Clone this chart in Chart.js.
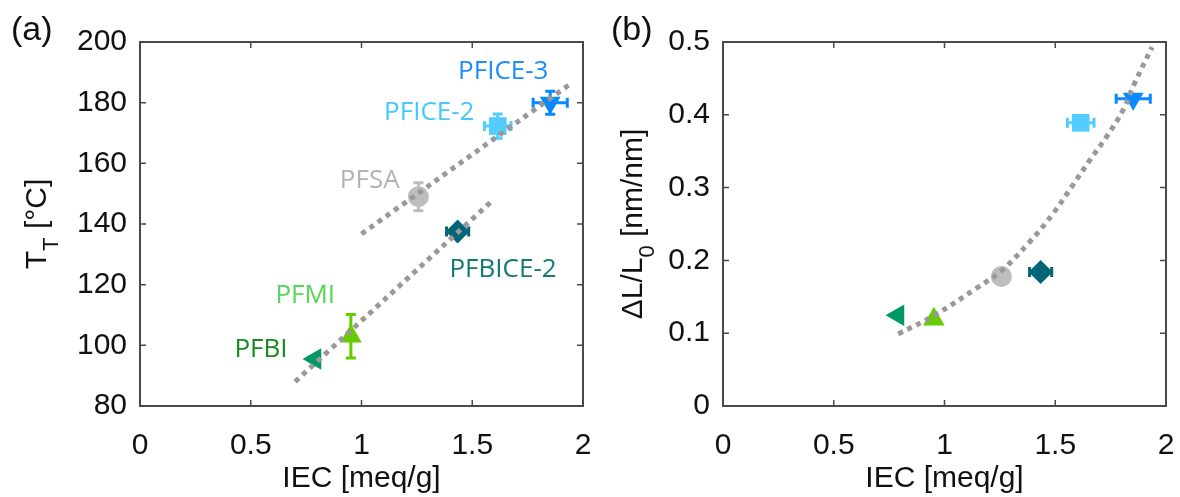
<!DOCTYPE html>
<html>
<head>
<meta charset="utf-8">
<script src="https://cdn.jsdelivr.net/npm/chart.js@4.4.1/dist/chart.umd.min.js"></script>
<style>
  body { margin: 0; background: #fff; }
  .panel { position: absolute; top: 0; }
</style>
</head>
<body>
<div class="panel" style="left:0px"><canvas id="chartA" width="600" height="497"></canvas></div>
<div class="panel" style="left:600px"><canvas id="chartB" width="580" height="497"></canvas></div>
<script>
// membranes, same order everywhere
const names = ['PFBI', 'PFMI', 'PFSA', 'PFBICE-2', 'PFICE-2', 'PFICE-3'];
const iec = [0.79, 0.952, 1.257, 1.434, 1.615, 1.852];
const iecErr = [0, 0, 0, 0.05, 0.06, 0.077];

// (a) transition temperature
const tT = [95.5, 103, 149, 137.5, 172.3, 180];
const tTErr = [0, 7.2, 4.6, 0, 4, 3.8];

// (b) swelling dL/L0
const swell = [0.1246, 0.119, 0.178, 0.184, 0.389, 0.422];

// dotted guide lines
const fitUpperX = [1.0, 1.953];
const fitUpperY = [136.7, 186.7];
const fitLowerX = [0.70, 1.598];
const fitLowerY = [88.0, 148.2];
const fitSwellX = [0.791, 0.957, 1.145, 1.258, 1.386, 1.491, 1.574, 1.657, 1.732, 1.807, 1.856, 1.937];
const fitSwellY = [0.099, 0.125, 0.162, 0.186, 0.226, 0.2647, 0.301, 0.338, 0.370, 0.407, 0.442, 0.493];

// tick labels
const iecTicks = [0, 0.5, 1, 1.5, 2];
const tTTicks = [80, 100, 120, 140, 160, 180, 200];
const swellTicks = [0, 0.1, 0.2, 0.3, 0.4, 0.5];

// marker look
const markerColors = ['#009966', '#66cc00', '#bdbdbd', '#006677', '#55ccff', '#0a88ff'];
const labelColors = ['#168a1e', '#55d655', '#b3b3b3', '#127878', '#44c8ff', '#1a8cff'];
const markerStyles = ['triangle', 'triangle', 'circle', 'rectRot', 'rect', 'triangle'];
const markerRot = [270, 0, 0, 0, 0, 180];
const markerRadius = [12.5, 12.5, 10.5, 12, 12.5, 12];

const tickFont = { family: 'Liberation Sans, Arial, sans-serif', size: 30 };
const titleFont = { family: 'Liberation Sans, Arial, sans-serif', size: 30 };

// frame, inner ticks, error bars, labels
const figPlugin = {
  id: 'figPlugin',
  beforeDatasetsDraw(chart) {
    const ctx = chart.ctx;
    const xs = chart.scales.x, ys = chart.scales.y;
    ctx.save();
    ctx.lineWidth = 3;
    chart.data.datasets.forEach(ds => {
      if (!ds.errX) return;
      const p = ds.data[0];
      const px = xs.getPixelForValue(p.x), py = ys.getPixelForValue(p.y);
      ctx.strokeStyle = ds.backgroundColor;
      ctx.beginPath();
      if (ds.errY) {
        const y1 = ys.getPixelForValue(p.y - ds.errY), y2 = ys.getPixelForValue(p.y + ds.errY);
        ctx.moveTo(px, y1); ctx.lineTo(px, y2);
        ctx.moveTo(px - 5, y1); ctx.lineTo(px + 5, y1);
        ctx.moveTo(px - 5, y2); ctx.lineTo(px + 5, y2);
      }
      if (ds.errX[0]) {
        const x1 = xs.getPixelForValue(p.x - ds.errX[0]), x2 = xs.getPixelForValue(p.x + ds.errX[0]);
        ctx.moveTo(x1, py); ctx.lineTo(x2, py);
        ctx.moveTo(x1, py - 5); ctx.lineTo(x1, py + 5);
        ctx.moveTo(x2, py - 5); ctx.lineTo(x2, py + 5);
      }
      ctx.stroke();
    });
    ctx.restore();
  },
  afterDraw(chart, args, opts) {
    const ctx = chart.ctx;
    const a = chart.chartArea;
    const xs = chart.scales.x, ys = chart.scales.y;
    ctx.save();
    // box
    ctx.strokeStyle = '#4a4a4a';
    ctx.lineWidth = 2;
    ctx.strokeRect(a.left, a.top, a.right - a.left, a.bottom - a.top);
    // inward ticks on all sides
    ctx.lineWidth = 1.5;
    ctx.beginPath();
    xs.ticks.forEach(t => {
      const x = xs.getPixelForValue(t.value);
      ctx.moveTo(x, a.bottom); ctx.lineTo(x, a.bottom - 6);
      ctx.moveTo(x, a.top); ctx.lineTo(x, a.top + 6);
    });
    ys.ticks.forEach(t => {
      const y = ys.getPixelForValue(t.value);
      ctx.moveTo(a.left, y); ctx.lineTo(a.left + 6, y);
      ctx.moveTo(a.right, y); ctx.lineTo(a.right - 6, y);
    });
    ctx.stroke();

    // y title with subscript, rotated
    const yt = opts.yTitle;
    const mainF = titleFont.size + 'px ' + titleFont.family;
    const subF = '22px ' + titleFont.family;
    ctx.font = mainF;
    const w1 = ctx.measureText(yt.main).width;
    const w3 = ctx.measureText(yt.rest).width;
    ctx.font = subF;
    const w2 = ctx.measureText(yt.sub).width;
    const total = w1 + w2 + w3;
    const cy = (a.top + a.bottom) / 2;
    ctx.translate(yt.x, cy);
    ctx.rotate(-Math.PI / 2);
    ctx.fillStyle = '#111';
    ctx.textBaseline = 'alphabetic';
    ctx.textAlign = 'left';
    let sx = -total / 2;
    ctx.font = mainF; ctx.fillText(yt.main, sx, 0); sx += w1;
    ctx.font = subF; ctx.fillText(yt.sub, sx, yt.subShift); sx += w2;
    ctx.font = mainF; ctx.fillText(yt.rest, sx, 0);
    ctx.setTransform(1, 0, 0, 1, 0, 0);

    // panel letter
    ctx.font = '34px ' + titleFont.family;
    ctx.textAlign = 'left';
    ctx.textBaseline = 'middle';
    ctx.fillText(opts.letter, 11, 31);

    // coloured point labels
    ctx.font = '26px "Open Sans", "Noto Sans", sans-serif';
    ctx.textAlign = 'center';
    (opts.labels || []).forEach(l => {
      ctx.fillStyle = l.color;
      ctx.fillText(l.text, xs.getPixelForValue(l.x), ys.getPixelForValue(l.y));
    });
    ctx.restore();
  }
};

function markerSets(yVals, yErrs) {
  return names.map((n, i) => ({
    label: n,
    data: [{ x: iec[i], y: yVals[i] }],
    backgroundColor: markerColors[i],
    borderColor: markerColors[i],
    borderWidth: 0,
    pointStyle: markerStyles[i],
    rotation: markerRot[i],
    pointRadius: markerRadius[i],
    errX: [iecErr[i]],
    errY: yErrs ? yErrs[i] : 0,
    order: 1
  }));
}

function fitSet(xv, yv) {
  return {
    data: xv.map((x, i) => ({ x: x, y: yv[i] })),
    showLine: true,
    pointRadius: 0,
    borderColor: '#999999',
    borderWidth: 5,
    borderDash: [5, 5],
    borderCapStyle: 'butt',
    tension: 0.4,
    fill: false,
    order: 0
  };
}

function makeOptions(yMin, yMax, yTicks, yWidth, padRight, pluginOpts) {
  return {
    responsive: false,
    animation: false,
    devicePixelRatio: 1,
    layout: { padding: { top: 42, right: padRight, left: 0, bottom: 0 } },
    plugins: { legend: { display: false }, tooltip: { enabled: false }, figPlugin: pluginOpts },
    scales: {
      x: {
        type: 'linear', min: 0, max: 2,
        afterBuildTicks: s => { s.ticks = iecTicks.map(v => ({ value: v })); },
        afterFit: s => { s.height = 91; },
        // invisible tick marks push the labels down without widening the side padding
        grid: { display: true, drawOnChartArea: false, drawTicks: true, tickLength: 20, color: 'rgba(0,0,0,0)' },
        border: { display: false },
        ticks: { font: tickFont, color: '#111', padding: 2, callback: v => String(v) },
        title: { display: true, text: 'IEC [meq/g]', font: titleFont, color: '#111', padding: { top: 0, bottom: 0 } }
      },
      y: {
        type: 'linear', min: yMin, max: yMax,
        afterBuildTicks: s => { s.ticks = yTicks.map(v => ({ value: v })); },
        afterFit: s => { s.width = yWidth; },
        grid: { display: false, drawTicks: false },
        border: { display: false },
        ticks: { font: tickFont, color: '#111', padding: 13, callback: v => String(v) }
      }
    }
  };
}

const labelsA = [
  { text: 'PFBI', x: 0.546, y: 98.5, color: labelColors[0] },
  { text: 'PFMI', x: 0.746, y: 116.4, color: labelColors[1] },
  { text: 'PFSA', x: 1.037, y: 154.3, color: labelColors[2] },
  { text: 'PFBICE-2', x: 1.639, y: 125.1, color: labelColors[3] },
  { text: 'PFICE-2', x: 1.306, y: 176.8, color: labelColors[4] },
  { text: 'PFICE-3', x: 1.640, y: 190.4, color: labelColors[5] }
];

const chartA = new Chart(document.getElementById('chartA'), {
  type: 'scatter',
  data: {
    datasets: [fitSet(fitUpperX, fitUpperY), fitSet(fitLowerX, fitLowerY)].concat(markerSets(tT, tTErr))
  },
  options: makeOptions(80, 200, tTTicks, 140, 17, {
    letter: '(a)',
    yTitle: { main: 'T', sub: 'T', rest: ' [°C]', x: 46, subShift: 12 },
    labels: labelsA
  }),
  plugins: [figPlugin]
});

const chartB = new Chart(document.getElementById('chartB'), {
  type: 'scatter',
  data: {
    datasets: [fitSet(fitSwellX, fitSwellY)].concat(markerSets(swell, null))
  },
  options: makeOptions(0, 0.5, swellTicks, 123, 14, {
    letter: '(b)',
    yTitle: { main: 'ΔL/L', sub: '0', rest: ' [nm/nm]', x: 42, subShift: 12 },
    labels: []
  }),
  plugins: [figPlugin]
});
</script>
</body>
</html>
